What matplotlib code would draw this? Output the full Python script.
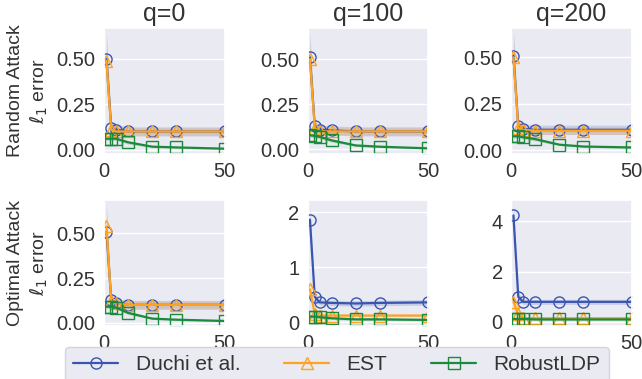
import matplotlib
matplotlib.use("Agg")
import matplotlib.pyplot as plt
import seaborn as sns
import numpy as np

sns.set_theme(style="darkgrid")
plt.rcParams['font.family'] = ['Liberation Sans', 'DejaVu Sans']

x = [1, 3, 5, 10, 20, 30, 50]
qs = ["q=0", "q=100", "q=200"]
row_labels = ["Random Attack\n$\\ell_1$ error", "Optimal Attack\n$\\ell_1$ error"]
methods = ["Duchi et al.", "EST", "RobustLDP"]

# mean values, panels in order: row1 (q=0,100,200), row2 (q=0,100,200)
duchi = [
    [0.50, 0.12, 0.11, 0.10, 0.10, 0.10, 0.10],
    [0.51, 0.13, 0.11, 0.105, 0.10, 0.10, 0.10],
    [0.51, 0.13, 0.115, 0.11, 0.11, 0.11, 0.11],
    [0.51, 0.13, 0.11, 0.10, 0.10, 0.10, 0.10],
    [1.87, 0.46, 0.36, 0.35, 0.34, 0.35, 0.36],
    [4.24, 1.00, 0.80, 0.80, 0.80, 0.80, 0.80],
]
est = [
    [0.49, 0.11, 0.10, 0.10, 0.10, 0.10, 0.10],
    [0.50, 0.12, 0.10, 0.10, 0.10, 0.10, 0.10],
    [0.50, 0.12, 0.11, 0.105, 0.105, 0.105, 0.105],
    [0.54, 0.12, 0.11, 0.10, 0.10, 0.10, 0.10],
    [0.60, 0.15, 0.12, 0.12, 0.12, 0.12, 0.12],
    [0.80, 0.30, 0.15, 0.15, 0.15, 0.15, 0.15],
]
robust = [
    [0.06, 0.06, 0.06, 0.04, 0.016, 0.012, 0.005],
    [0.078, 0.075, 0.07, 0.05, 0.022, 0.015, 0.006],
    [0.075, 0.075, 0.07, 0.06, 0.03, 0.02, 0.015],
    [0.09, 0.09, 0.085, 0.055, 0.023, 0.017, 0.01],
    [0.10, 0.10, 0.09, 0.07, 0.05, 0.05, 0.04],
    [0.12, 0.12, 0.12, 0.10, 0.10, 0.10, 0.10],
]
# confidence band half-widths
duchi_ci = [
    [0.14, 0.025, 0.025, 0.025, 0.025, 0.025, 0.025],
    [0.14, 0.025, 0.025, 0.025, 0.025, 0.025, 0.025],
    [0.14, 0.025, 0.025, 0.025, 0.025, 0.025, 0.025],
    [0.14, 0.025, 0.025, 0.025, 0.025, 0.025, 0.025],
    [0.26, 0.08, 0.05, 0.05, 0.05, 0.05, 0.05],
    [0.50, 0.15, 0.10, 0.10, 0.10, 0.10, 0.10],
]
est_ci = [
    [0.12, 0.02, 0.02, 0.02, 0.02, 0.02, 0.02],
    [0.12, 0.02, 0.02, 0.02, 0.02, 0.02, 0.02],
    [0.12, 0.02, 0.02, 0.02, 0.02, 0.02, 0.02],
    [0.12, 0.02, 0.02, 0.02, 0.02, 0.02, 0.02],
    [0.15, 0.03, 0.02, 0.02, 0.02, 0.02, 0.02],
    [0.30, 0.10, 0.05, 0.05, 0.05, 0.05, 0.05],
]
robust_ci = [
    [0.01, 0.01, 0.01, 0.01, 0.005, 0.005, 0.005],
    [0.01, 0.01, 0.01, 0.01, 0.005, 0.005, 0.005],
    [0.01, 0.01, 0.01, 0.01, 0.005, 0.005, 0.005],
    [0.01, 0.01, 0.01, 0.01, 0.005, 0.005, 0.005],
    [0.05, 0.04, 0.03, 0.02, 0.02, 0.02, 0.02],
    [0.05, 0.05, 0.05, 0.05, 0.05, 0.05, 0.05],
]
ylims = [(-0.022, 0.67), (-0.023, 0.672), (-0.018, 0.658),
         (-0.018, 0.685), (-0.07, 2.22), (-0.16, 4.84)]
yticks = [[0, 0.25, 0.5]] * 4 + [[0, 1, 2], [0, 2, 4]]

colors = ["#3a55b0", "#ffa21f", "#1b8a3c"]
markers = ["o", "^", "s"]
txt = "#333333"

fig, axes = plt.subplots(2, 3, figsize=(6.42, 3.79), dpi=100)
fig.subplots_adjust(left=0.162, right=0.984, top=0.926, bottom=0.140,
                    wspace=0.686, hspace=0.373)

handles = []
for i, ax in enumerate(axes.flat):
    series = [(duchi[i], duchi_ci[i]), (est[i], est_ci[i]), (robust[i], robust_ci[i])]
    for k, (m, c) in enumerate(series):
        m = np.array(m)
        c = np.array(c)
        ax.fill_between(x, m - c, m + c, color=colors[k], alpha=0.2, lw=0)
        ln, = ax.plot(x, m, color=colors[k], marker=markers[k], mfc="none",
                      mec=colors[k], ms=8, lw=1.6, mew=1.0, label=methods[k])
        if i == 0:
            handles.append(ln)
    ax.set_xlim(0, 50)
    ax.set_xticks([0, 50])
    ax.set_ylim(*ylims[i])
    ax.set_yticks(yticks[i])
    if i < 4:
        ax.set_yticklabels([f"{t:.2f}" for t in yticks[i]])
    ax.tick_params(labelsize=14.5, length=0, pad=6, colors=txt)
    if i < 3:
        ax.set_title(qs[i], fontsize=18, color=txt, pad=5)
    if i % 3 == 0:
        ax.set_ylabel(row_labels[i // 3], fontsize=14, color=txt, labelpad=5)

leg = fig.legend(handles, methods, loc="upper center",
                 bbox_to_anchor=(337 / 642, 1 - 347 / 379),
                 ncol=3, fontsize=15, handlelength=2.15, handletextpad=0.85,
                 columnspacing=2.1, frameon=True, facecolor="#EAEAF2",
                 edgecolor="#d5d5dd", borderaxespad=0, framealpha=1)
for t in leg.get_texts():
    t.set_color(txt)

fig.savefig("out.png", dpi=100)
